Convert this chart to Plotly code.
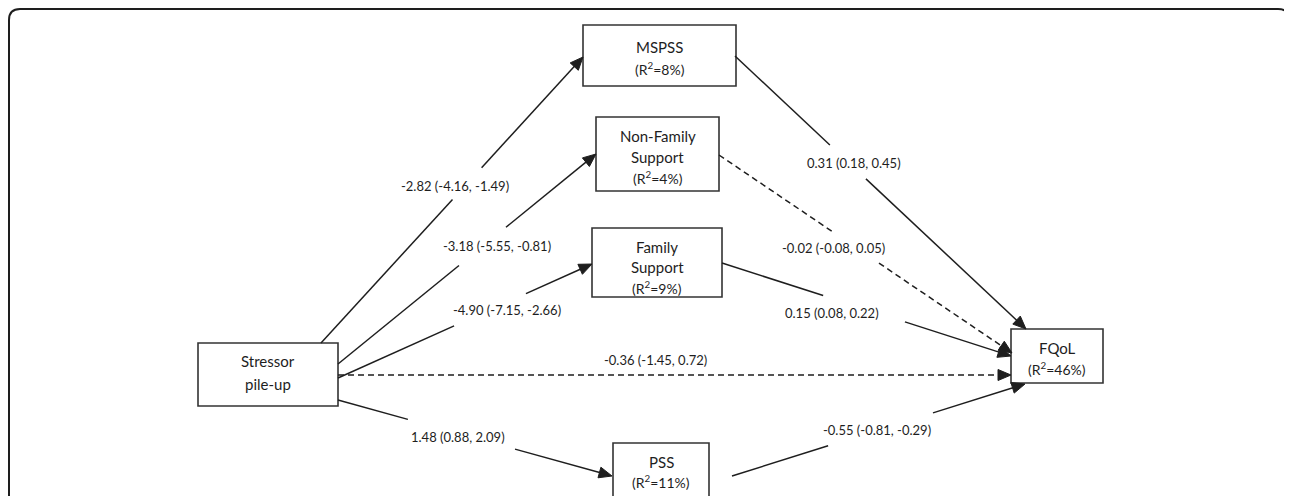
import numpy as np
import plotly.graph_objects as go

# ---------------- data ----------------
node_keys = ["stress", "mspss", "nonfam", "fam", "pss", "fqol"]
node_lines = [["Stressor", "pile-up"], ["MSPSS"], ["Non-Family", "Support"],
              ["Family", "Support"], ["PSS"], ["FQoL"]]
node_r2 = [None, 8, 4, 9, 11, 46]

edge_from = ["stress", "stress", "stress", "stress", "stress", "mspss", "nonfam", "fam", "pss"]
edge_to = ["mspss", "nonfam", "fam", "fqol", "pss", "fqol", "fqol", "fqol", "fqol"]
edge_coef = [-2.82, -3.18, -4.90, -0.36, 1.48, 0.31, -0.02, 0.15, -0.55]
edge_lo = [-4.16, -5.55, -7.15, -1.45, 0.88, 0.18, -0.08, 0.08, -0.81]
edge_hi = [-1.49, -0.81, -2.66, 0.72, 2.09, 0.45, 0.05, 0.22, -0.29]

# ---------------- layout (pixel geometry) ----------------
W, H = 1292, 496
OFF = 8  # page body margin compensation
box = {
    "stress": (198, 338, 343, 406),
    "mspss": (583, 736, 25, 86),
    "nonfam": (596, 719, 117, 191),
    "fam": (592, 722, 228, 297),
    "pss": (613, 709, 443, 530),
    "fqol": (1011, 1103, 329, 383),
}
text_y = {
    "stress": [361, 384], "mspss": [47, 68], "nonfam": [136, 157, 177],
    "fam": [247, 267, 287], "pss": [462, 481], "fqol": [348, 368],
}
# start, end, label gap (fractions along line), label position
edge_geom = [
    ((321, 343), (583, 57), (0.502, 0.613), (455, 186)),
    ((338, 364), (596, 154), (0.469, 0.651), (497, 246)),
    ((338, 378), (592, 264), (0.457, 0.740), (507, 310)),
    ((338, 375), (1011, 375), None, (655, 360)),
    ((338, 400), (612, 476), (0.255, 0.646), (458, 437)),
    ((735, 56), (1026, 329), (0.326, 0.450), (854, 163)),
    ((719, 155), (1012, 353), (0.389, 0.546), (833, 248)),
    ((722, 263), (1011, 356), (0.350, 0.633), (832, 313)),
    ((732, 476), (1025, 384), (0.328, 0.686), (877, 430)),
]

INK = "#1e1e1e"
FONT = "Lato"

fig = go.Figure()
shapes = []
annotations = []

# outer rounded frame
shapes.append(dict(type="path", xref="x", yref="y",
                   path="M 9,520 L 9,20 Q 9,9 20,9 L 1278,9 Q 1289,9 1289,20 L 1289,520",
                   line=dict(color=INK, width=2)))

# boxes and text
for k, lines, r2 in zip(node_keys, node_lines, node_r2):
    x0, x1, y0, y1 = box[k]
    shapes.append(dict(type="rect", xref="x", yref="y", x0=x0, x1=x1, y0=y0, y1=y1,
                       line=dict(color="#333333", width=1.6), fillcolor="white", layer="above"))
    cx = (x0 + x1) / 2
    texts = list(lines)
    if r2 is not None:
        texts.append(f"(R<sup>2</sup>=%d%%)" % r2)
    for i, (t, ty) in enumerate(zip(texts, text_y[k])):
        is_r2 = r2 is not None and i == len(texts) - 1
        annotations.append(dict(x=cx, y=ty, xref="x", yref="y", text=t, showarrow=False,
                                font=dict(family=FONT, size=14 if is_r2 else 15, color=INK),
                                xanchor="center", yanchor="middle"))

# edges
HEAD_L, HEAD_W = 13, 5.5
for coef, lo, hi, (p0, p1, gap, lab) in zip(edge_coef, edge_lo, edge_hi, edge_geom):
    dashed = lo < 0 < hi
    p0 = np.array(p0, float)
    p1 = np.array(p1, float)
    d = p1 - p0
    L = np.linalg.norm(d)
    u = d / L
    nvec = np.array([-u[1], u[0]])
    t_end = (L - (HEAD_L - 2)) / L
    segs = [(0.0, gap[0]), (gap[1], t_end)] if gap else [(0.0, t_end)]
    for a, b in segs:
        q0 = p0 + d * a
        q1 = p0 + d * b
        shapes.append(dict(type="line", xref="x", yref="y", x0=q0[0], y0=q0[1], x1=q1[0], y1=q1[1],
                           line=dict(color=INK, width=1.5, dash="6px,4px" if dashed else "solid")))
    base = p1 - u * HEAD_L
    a1 = base + nvec * HEAD_W
    a2 = base - nvec * HEAD_W
    shapes.append(dict(type="path", xref="x", yref="y",
                       path=f"M {p1[0]:.1f},{p1[1]:.1f} L {a1[0]:.1f},{a1[1]:.1f} L {a2[0]:.1f},{a2[1]:.1f} Z",
                       fillcolor=INK, line=dict(color=INK, width=1)))
    annotations.append(dict(x=lab[0], y=lab[1], xref="x", yref="y",
                            text=f"{coef:.2f} ({lo:.2f}, {hi:.2f})", showarrow=False,
                            font=dict(family=FONT, size=13, color=INK),
                            xanchor="center", yanchor="middle"))

fig.update_layout(
    width=W, height=H, margin=dict(l=0, r=0, t=0, b=0),
    paper_bgcolor="white", plot_bgcolor="white",
    xaxis=dict(range=[OFF, W + OFF], visible=False, fixedrange=True),
    yaxis=dict(range=[H + OFF, OFF], visible=False, fixedrange=True),
    shapes=shapes, annotations=annotations, showlegend=False,
)
fig.write_html("out.html")
